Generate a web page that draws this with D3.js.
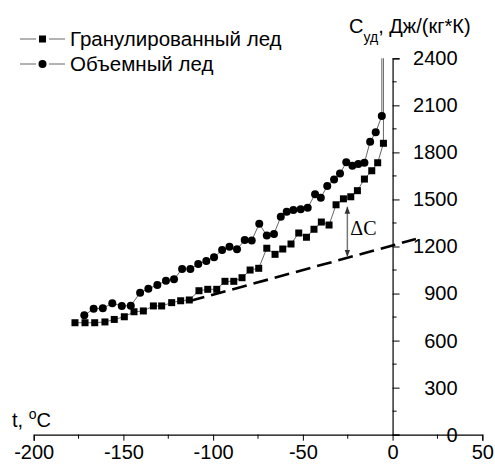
<!DOCTYPE html>
<html lang='ru'>
<head>
    <meta charset='UTF-8'>
    <title>Удельная теплоемкость льда</title>
    <script src='https://d3js.org/d3.v7.min.js' charset='utf-8'></script>
    <style>
        body { margin: 0; background: #fff; }
        svg text { font-family: 'Liberation Sans', Arial, sans-serif; fill: #000; }
    </style>
</head>
<body>
<div id='chart'></div>
<script>
    'use strict';

    // Гранулированный лед (squares)
    const granT = [-177, -171.4, -166, -160.3, -155.1, -149.5, -144.1, -138.9, -133.3, -128.7,
        -123.1, -118.1, -113.3, -107.9, -103, -98, -93.4, -88.5, -83.9, -79.4,
        -74.6, -70.1, -65.5, -61.2, -56.6, -52.3, -48, -43.8, -39.7, -35.4,
        -31.5, -27.4, -23.3, -19.6, -15.7, -11.6, -8.3, -5.1];
    const granC = [714, 714, 714, 719, 735, 752, 784, 789, 821, 821,
        842, 854, 859, 918, 927, 927, 978, 978, 1001, 1050,
        1061, 1189, 1150, 1184, 1216, 1286, 1259, 1310, 1356, 1337,
        1466, 1504, 1517, 1556, 1630, 1683, 1734, 1858];

    // Объемный лед (circles)
    const bulkT = [-171.8, -166.6, -161.5, -156.2, -150.9, -145.9, -140.7, -136.1, -131.1, -126.3,
        -121.8, -117.3, -112.7, -108.3, -103.8, -99.5, -95, -90.9, -86.7, -82.4,
        -78.5, -74.3, -70.1, -66.1, -62.3, -59, -55.3, -51.2, -47.3, -43.2,
        -40, -36.4, -32.6, -29.3, -25.8, -22.4, -19.1, -15.7, -12.5, -9.4, -6];
    const bulkC = [761, 803, 806, 838, 821, 823, 905, 931, 954, 982,
        991, 1057, 1057, 1088, 1108, 1131, 1178, 1199, 1182, 1241,
        1239, 1345, 1270, 1280, 1390, 1422, 1433, 1437, 1447, 1533,
        1511, 1586, 1627, 1665, 1737, 1715, 1726, 1734, 1868, 1928, 2032];

    // both curves run off the top of the plot after the last point
    const offChart = 3000;

    // baseline (dashed) and the ΔC marker
    const baseT = [-113, 13];
    const baseC = [852, 1248];
    const deltaT = -25.2;
    const deltaC = [1454, 1135];

    const xMajor = [-200, -150, -100, -50, 0, 50];
    const xMinor = [-175, -125, -75, -25, 25];
    const yMajor = [0, 300, 600, 900, 1200, 1500, 1800, 2100, 2400];
    const yMinor = [150, 450, 750, 1050, 1350, 1650, 1950, 2250];

    const width = 495, height = 468;

    const svg = d3.select('#chart').append('svg')
        .attr('width', width)
        .attr('height', height);

    const x = d3.scaleLinear().domain([-200, 50]).range([33.7, 482.3]);
    const y = d3.scaleLinear().domain([0, 2400]).range([434.7, 58.3]);

    svg.append('defs').append('clipPath').attr('id', 'plot')
        .append('rect')
        .attr('x', 0).attr('y', y(2400))
        .attr('width', width).attr('height', y(0) - y(2400) + 20);

    // x axis
    const xAxis = svg.append('g')
        .attr('transform', `translate(0, ${y(0)})`)
        .call(d3.axisBottom(x).tickValues(xMajor).tickSize(6).tickPadding(4).tickFormat(d => String(d)));
    xAxis.append('g').selectAll('line').data(xMinor).join('line')
        .attr('x1', d => x(d)).attr('x2', d => x(d))
        .attr('y1', 0).attr('y2', 4)
        .attr('stroke', '#000');

    // y axis (at t = 0)
    const yAxis = svg.append('g')
        .attr('transform', `translate(${x(0)}, 0)`)
        .call(d3.axisRight(y).tickValues(yMajor).tickSize(7).tickFormat(d => String(d)));
    yAxis.selectAll('.tick text')
        .attr('text-anchor', 'end')
        .attr('x', 65);
    yAxis.append('g').selectAll('line').data(yMinor).join('line')
        .attr('y1', d => y(d)).attr('y2', d => y(d))
        .attr('x1', 0).attr('x2', 4)
        .attr('stroke', '#000');

    svg.selectAll('.domain').attr('stroke', '#000').attr('stroke-width', 1.2);
    svg.selectAll('.tick line').attr('stroke', '#000');
    svg.selectAll('.tick text')
        .style('font-size', '20px')
        .style('font-family', "'Liberation Sans', Arial, sans-serif");

    // dashed base line
    const base = baseT.map((t, i) => ({ t: t, c: baseC[i] }));
    svg.append('path')
        .datum(base)
        .attr('fill', 'none')
        .attr('stroke', '#000')
        .attr('stroke-width', 2.6)
        .attr('stroke-dasharray', '15,7')
        .attr('d', d3.line().x(d => x(d.t)).y(d => y(d.c)));

    // series
    const gran = granT.map((t, i) => ({ t: t, c: granC[i] }));
    const bulk = bulkT.map((t, i) => ({ t: t, c: bulkC[i] }));
    const line = d3.line().x(d => x(d.t)).y(d => y(d.c));

    [gran, bulk].forEach(s => {
        const ext = s.concat([{ t: s[s.length - 1].t, c: offChart }]);
        svg.append('path')
            .datum(ext)
            .attr('clip-path', 'url(#plot)')
            .attr('fill', 'none')
            .attr('stroke', '#666')
            .attr('stroke-width', 1)
            .attr('d', line);
    });

    const sq = 7;
    svg.append('g').selectAll('rect').data(gran).join('rect')
        .attr('x', d => x(d.t) - sq / 2)
        .attr('y', d => y(d.c) - sq / 2)
        .attr('width', sq).attr('height', sq)
        .attr('fill', '#000');

    svg.append('g').selectAll('circle').data(bulk).join('circle')
        .attr('cx', d => x(d.t))
        .attr('cy', d => y(d.c))
        .attr('r', 4)
        .attr('fill', '#000');

    // ΔC arrow
    const defs = svg.select('defs');
    defs.append('marker')
        .attr('id', 'head')
        .attr('viewBox', '0 0 10 10')
        .attr('refX', 10).attr('refY', 5)
        .attr('markerWidth', 7).attr('markerHeight', 7)
        .attr('markerUnits', 'userSpaceOnUse')
        .attr('orient', 'auto-start-reverse')
        .append('path')
        .attr('d', 'M0,1L10,5L0,9Z')
        .attr('fill', '#333');
    svg.append('line')
        .attr('x1', x(deltaT)).attr('x2', x(deltaT))
        .attr('y1', y(deltaC[0])).attr('y2', y(deltaC[1]))
        .attr('stroke', '#777')
        .attr('stroke-width', 1.5)
        .attr('marker-start', 'url(#head)')
        .attr('marker-end', 'url(#head)');
    svg.append('text')
        .attr('x', x(deltaT) + 3)
        .attr('y', 235)
        .style('font-family', "'Liberation Serif', 'Times New Roman', serif")
        .style('font-size', '20px')
        .text('ΔC');

    // legend
    const legend = [
        { name: 'Гранулированный лед', shape: 'square', y: 39 },
        { name: 'Объемный лед', shape: 'circle', y: 64 }
    ];
    const lg = svg.append('g');
    legend.forEach(l => {
        lg.append('line').attr('x1', 20).attr('x2', 65).attr('y1', l.y).attr('y2', l.y)
            .attr('stroke', '#666').attr('stroke-width', 1);
        lg.append('rect').attr('x', 36).attr('y', l.y - 6).attr('width', 13).attr('height', 12)
            .attr('fill', '#fff');
        if (l.shape === 'square') {
            lg.append('rect').attr('x', 42.5 - sq / 2).attr('y', l.y - sq / 2)
                .attr('width', sq).attr('height', sq).attr('fill', '#000');
        } else {
            lg.append('circle').attr('cx', 42.5).attr('cy', l.y).attr('r', 4).attr('fill', '#000');
        }
        lg.append('text').attr('x', 70).attr('y', l.y + 7)
            .style('font-size', '20.5px')
            .text(l.name);
    });

    // axis titles
    const yt = svg.append('text').attr('x', 349).attr('y', 33).style('font-size', '20px');
    yt.append('tspan').text('C');
    yt.append('tspan').attr('dy', 9).style('font-size', '14px').text('уд');
    yt.append('tspan').attr('dy', -9).text(', Дж/(кг*К)');

    const xt = svg.append('text').attr('x', 12).attr('y', 427).style('font-size', '20px');
    xt.append('tspan').text('t, ');
    xt.append('tspan').attr('dy', -8).style('font-size', '14px').text('o');
    xt.append('tspan').attr('dy', 8).text('C');
</script>
</body>
</html>
